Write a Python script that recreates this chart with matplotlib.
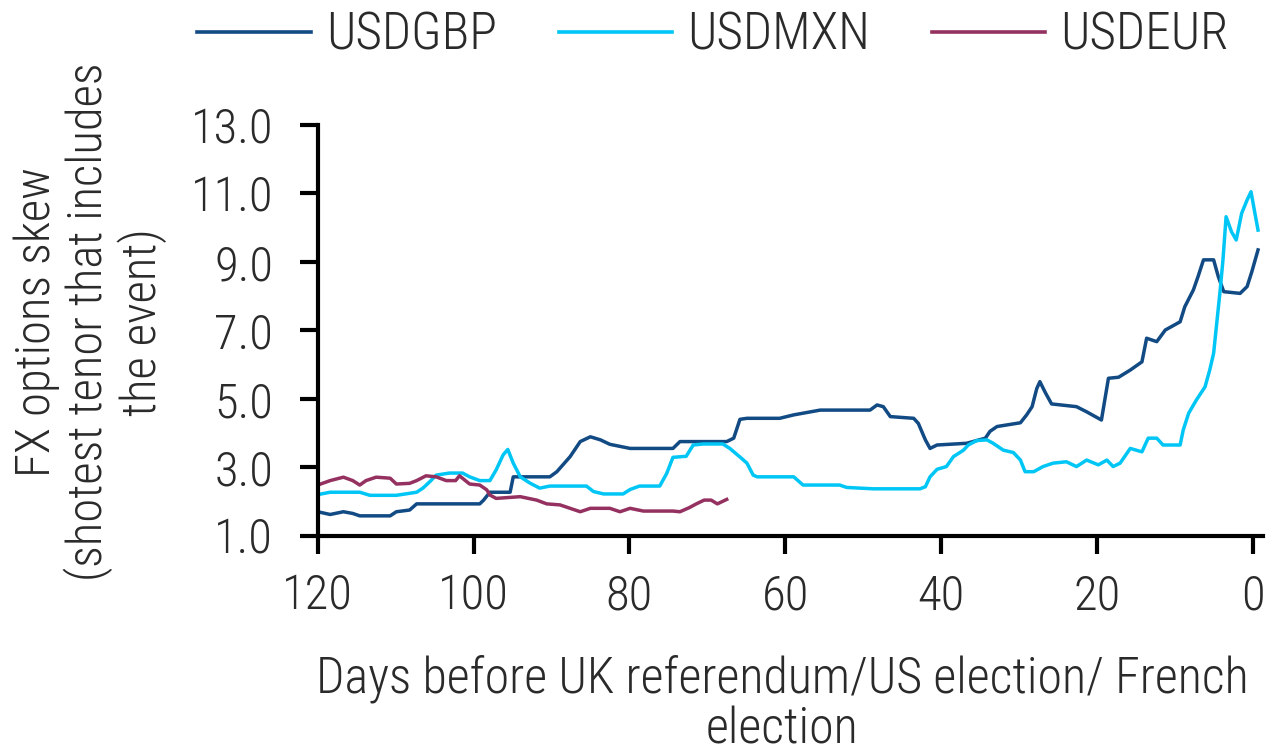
import matplotlib
matplotlib.use("Agg")
import matplotlib.pyplot as plt
from matplotlib import font_manager

# ---------------- data ----------------
series_names = ["USDGBP", "USDMXN", "USDEUR"]

gbp_days = [120, 118.4, 116.7, 115.5, 114.6, 110.7, 109.9, 108.2, 107.3, 99.2, 98.7, 97.9,
            95.3, 94.9, 90.2, 89.3, 87.6, 86.3, 85.0, 83.7, 82.5, 79.9, 74.4, 73.5, 67.5,
            66.6, 65.8, 64.9, 60.7, 58.9, 55.5, 49.1, 48.2, 47.4, 46.5, 43.5, 42.9, 42.0,
            41.4, 40.5, 36.7, 34.3, 33.7, 32.8, 29.8, 29.0, 28.3, 27.7, 27.3, 26.6, 25.8,
            22.6, 21.3, 19.4, 18.9, 18.5, 17.2, 15.7, 14.2, 13.6, 12.3, 11.2, 9.3, 8.7,
            7.6, 7.0, 6.3, 5.0, 4.4, 3.7, 1.6, 0.7, 0.1, -0.7]
gbp_values = [1.70, 1.62, 1.70, 1.65, 1.58, 1.58, 1.70, 1.75, 1.93, 1.93, 2.04, 2.27,
              2.27, 2.72, 2.72, 2.87, 3.31, 3.75, 3.89, 3.80, 3.67, 3.55, 3.55, 3.75, 3.75,
              3.85, 4.40, 4.43, 4.43, 4.53, 4.67, 4.67, 4.82, 4.77, 4.48, 4.43, 4.28, 3.80,
              3.55, 3.65, 3.70, 3.85, 4.05, 4.19, 4.30, 4.53, 4.77, 5.30, 5.50, 5.18, 4.85,
              4.77, 4.62, 4.38, 5.06, 5.60, 5.63, 5.84, 6.08, 6.77, 6.67, 7.01, 7.25, 7.69,
              8.18, 8.57, 9.06, 9.06, 8.57, 8.13, 8.08, 8.28, 8.71, 9.35]

mxn_days = [120, 118.4, 114.6, 113.3, 109.9, 107.3, 106.5, 105.6, 104.8, 103.1, 101.4, 100.5,
            99.2, 97.9, 97.1, 96.2, 95.6, 94.9, 94.0, 92.7, 91.5, 90.2, 85.5, 84.6, 83.3,
            80.8, 79.9, 78.7, 76.1, 75.2, 74.4, 72.7, 71.8, 70.5, 68.0, 67.1, 65.8, 64.9,
            64.1, 63.6, 58.9, 57.7, 53.0, 52.1, 48.7, 42.7, 42.0, 41.4, 40.5, 39.3, 38.4,
            37.1, 36.5, 35.4, 34.1, 33.3, 32.0, 30.7, 29.8, 29.2, 28.1, 26.9, 25.6, 23.9,
            22.6, 21.3, 19.8, 18.7, 17.9, 17.0, 15.7, 14.2, 13.4, 12.3, 11.5, 9.3, 8.9,
            8.2, 7.2, 6.1, 5.5, 5.0, 4.6, 4.2, 3.8, 3.4, 2.7, 2.1, 1.4, 0.7, 0.2, -0.3, -0.7]
mxn_values = [2.20, 2.27, 2.27, 2.18, 2.18, 2.27, 2.39, 2.58, 2.77, 2.83, 2.83, 2.72,
              2.61, 2.61, 2.92, 3.36, 3.52, 3.12, 2.72, 2.53, 2.39, 2.45, 2.45, 2.29, 2.22,
              2.22, 2.35, 2.45, 2.45, 2.82, 3.29, 3.32, 3.65, 3.68, 3.68, 3.55, 3.30, 3.12,
              2.77, 2.72, 2.72, 2.48, 2.48, 2.41, 2.37, 2.37, 2.43, 2.72, 2.94, 3.02, 3.31,
              3.50, 3.65, 3.78, 3.80, 3.70, 3.50, 3.43, 3.21, 2.87, 2.87, 3.02, 3.12, 3.16,
              3.02, 3.21, 3.07, 3.21, 3.02, 3.12, 3.55, 3.45, 3.85, 3.85, 3.65, 3.65, 4.09,
              4.58, 4.97, 5.35, 5.84, 6.33, 7.21, 8.08, 9.06, 10.32, 9.88, 9.64, 10.42, 10.81,
              11.05, 10.42, 9.93]

eur_days = [120, 118.4, 116.7, 115.5, 114.6, 113.8, 112.5, 110.7, 109.9, 108.2, 107.3, 106.1,
            104.8, 103.5, 102.3, 101.8, 100.5, 99.2, 98.3, 97.9, 97.1, 94.0, 91.9, 90.6,
            88.9, 87.6, 86.3, 85.0, 82.5, 81.2, 79.9, 78.2, 74.4, 73.5, 72.3, 71.4, 70.4,
            69.5, 68.7, 67.5]
eur_values = [2.48, 2.61, 2.71, 2.61, 2.48, 2.61, 2.71, 2.68, 2.51, 2.53, 2.61, 2.75,
              2.72, 2.61, 2.61, 2.75, 2.51, 2.48, 2.34, 2.19, 2.09, 2.14, 2.04, 1.93,
              1.90, 1.80, 1.70, 1.80, 1.80, 1.70, 1.80, 1.72, 1.72, 1.70, 1.82, 1.93, 2.04,
              2.04, 1.93, 2.06]

x_ticks = [120, 100, 80, 60, 40, 20, 0]
y_ticks = [1.0, 3.0, 5.0, 7.0, 9.0, 11.0, 13.0]

colors = ["#124a84", "#00c6f6", "#953160"]

# ---------------- style ----------------
available = {f.name for f in font_manager.fontManager.ttflist}
family = [f for f in ["Liberation Sans Narrow", "Roboto Condensed", "DejaVu Sans"] if f in available]
plt.rcParams["font.family"] = family
plt.rcParams["font.weight"] = 300
text_color = "#2a2a2a"
fs = 35

fig = plt.figure(figsize=(12.77, 7.53), dpi=100)
ax = fig.add_axes([317.7 / 1277, 1 - 535.7 / 753, (1262.7 - 317.7) / 1277, (535.7 - 125) / 753])

for d, v, c, n in zip([gbp_days, mxn_days, eur_days],
                      [gbp_values, mxn_values, eur_values], colors, series_names):
    ax.plot(d, v, color=c, lw=2.5, label=n, solid_joinstyle="round")

ax.set_xlim(120, -1.3)
ax.set_ylim(1.0, 13.0)
ax.set_xticks(x_ticks)
ax.set_xticklabels([str(t) for t in x_ticks])
ax.set_yticks(y_ticks)
ax.set_yticklabels([f"{t:.1f}" for t in y_ticks])

for s in ["top", "right"]:
    ax.spines[s].set_visible(False)
for s in ["left", "bottom"]:
    ax.spines[s].set_linewidth(3.0)
    ax.spines[s].set_color("black")
    ax.spines[s].set_capstyle("projecting")

ax.tick_params(axis="both", direction="out", length=13, width=3.0, color="black",
               labelsize=fs, labelcolor=text_color)
ax.tick_params(axis="y", pad=19)
ax.tick_params(axis="x", pad=14)

fig.text(782 / 1277, 1 - 704 / 753,
         "Days before UK referendum/US election/ French\nelection",
         ha="center", va="center", fontsize=36, color=text_color, linespacing=1.1)
fig.text(90 / 1277, 1 - 322 / 753,
         "FX options skew\n(shotest tenor that includes\nthe event)",
         ha="center", va="center", rotation=90, fontsize=fs, color=text_color,
         linespacing=1.1, multialignment="center")

leg = fig.legend(loc="center", bbox_to_anchor=(713 / 1277, 1 - 36 / 753), ncol=3,
                 frameon=False, fontsize=37, handlelength=2.2, handletextpad=0.3,
                 columnspacing=1.2, borderaxespad=0)
for t in leg.get_texts():
    t.set_color(text_color)
for h in leg.get_lines():
    h.set_linewidth(2.6)

fig.savefig("out.png", dpi=100)
